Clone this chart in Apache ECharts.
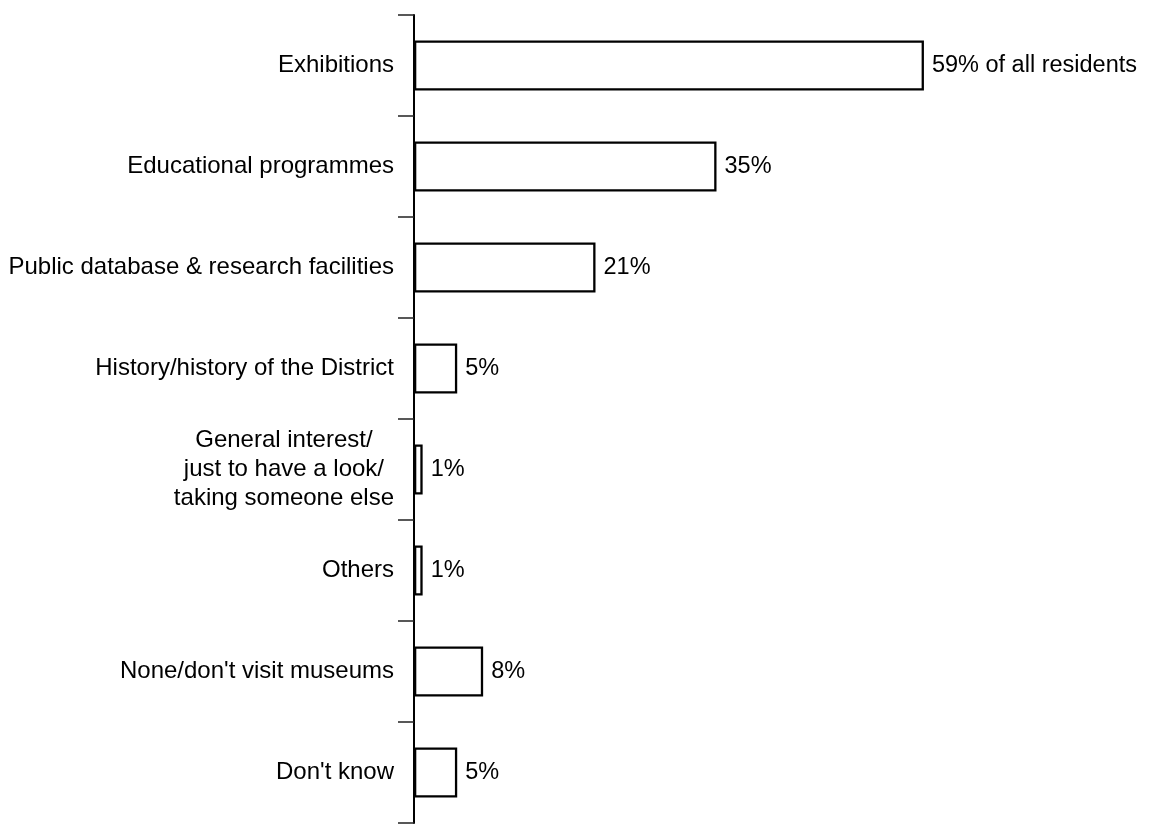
<!DOCTYPE html>
<html>
<head>
<meta charset="utf-8">
<script src="https://cdn.jsdelivr.net/npm/echarts@6/dist/echarts.min.js"></script>
<style>
  html, body { margin: 0; padding: 0; background: #fff; }
  #chart { width: 1151px; height: 824px; }
</style>
</head>
<body>
<div id="chart"></div>
<script>
const categories = [
  "Exhibitions",
  "Educational programmes",
  "Public database & research facilities",
  "History/history of the District",
  "General interest/\njust to have a look/\ntaking someone else",
  "Others",
  "None/don't visit museums",
  "Don't know"
];
const values = [59, 35, 21, 5, 1, 1, 8, 5];
const valueLabels = ["59% of all residents", "35%", "21%", "5%", "1%", "1%", "8%", "5%"];

const FONT = "'Liberation Sans', Arial, Helvetica, sans-serif";
const chart = echarts.init(document.getElementById('chart'), null, { renderer: 'canvas' });

chart.setOption({
  animation: false,
  backgroundColor: '#ffffff',
  grid: { left: 414, top: 15, bottom: 1, width: 605, containLabel: false },
  xAxis: {
    type: 'value',
    min: 0,
    max: 70,
    show: false
  },
  yAxis: {
    type: 'category',
    inverse: true,
    data: categories,
    axisLine: { show: true, lineStyle: { color: '#000', width: 2 } },
    axisTick: { show: true, length: 16, lineStyle: { color: '#222', width: 1.5 } },
    axisLabel: {
      margin: 20,
      color: '#000',
      fontFamily: FONT,
      fontSize: 24,
      lineHeight: 29,
      formatter: function (v) {
        if (v.indexOf('\n') >= 0) {
          return v.split('\n').map(function (s) { return '{c|' + s + '}'; }).join('\n');
        }
        return v;
      },
      rich: {
        c: { align: 'center', fontFamily: FONT, fontSize: 24, lineHeight: 29, color: '#000' }
      }
    },
    splitLine: { show: false }
  },
  series: [{
    type: 'bar',
    data: values,
    barWidth: 50,
    itemStyle: { color: '#ffffff', borderColor: '#000', borderWidth: 2.3 },
    label: {
      show: true,
      position: 'right',
      distance: 8,
      color: '#000',
      fontFamily: FONT,
      fontSize: 23.5,
      formatter: function (p) { return valueLabels[p.dataIndex]; }
    }
  }]
});
</script>
</body>
</html>
